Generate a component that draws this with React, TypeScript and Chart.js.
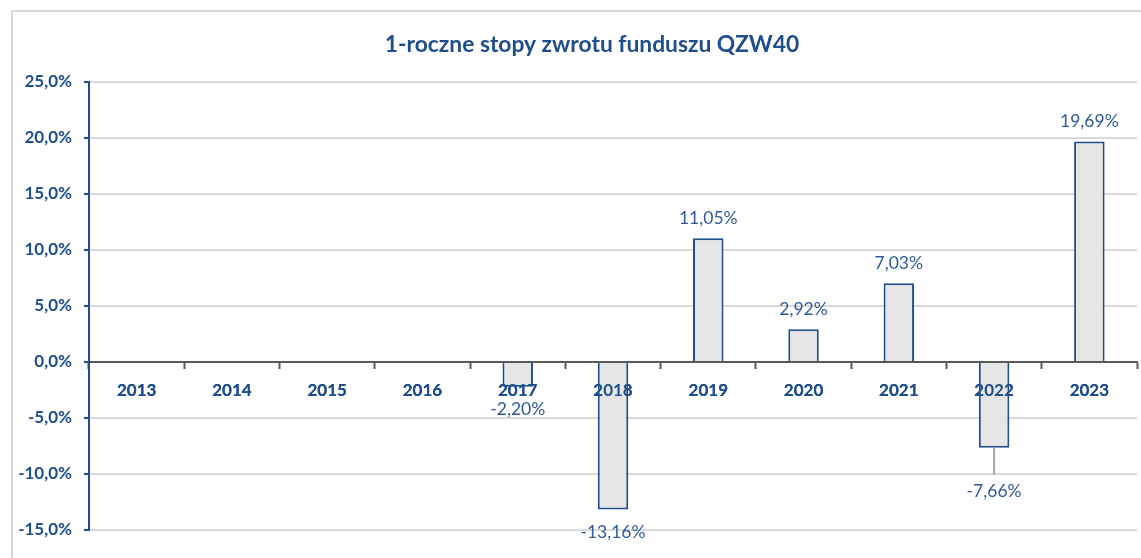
import { useEffect, useRef } from 'react';
import { Chart, registerables } from 'chart.js';

Chart.register(...registerables);

const chartTitle = '1-roczne stopy zwrotu funduszu QZW40';
const years = ['2013', '2014', '2015', '2016', '2017', '2018', '2019', '2020', '2021', '2022', '2023'];
const returns: (number | null)[] = [null, null, null, null, -2.2, -13.16, 11.05, 2.92, 7.03, -7.66, 19.69];
const yMin = -15;
const yMax = 25;
const yStep = 5;
const leaderYears = ['2022'];

const NAVY = '#1f4e8c';
const LABEL_BLUE = '#2f5c98';
const FONT = 'Lato, "Open Sans", sans-serif';

const pct = (v: number, d: number) => v.toFixed(d).replace('.', ',') + '%';

const labelsPlugin = {
  id: 'customLabels',
  afterDatasetsDraw(chart: any) {
    // x category labels drawn over the bars
    const xs = chart.scales.x;
    if (xs && typeof xs.drawLabels === 'function') {
      xs.drawLabels(chart.chartArea);
    }
  },
  afterDraw(chart: any) {
    const ctx = chart.ctx;
    ctx.save();
    // title
    ctx.font = `bold 22.8px ${FONT}`;
    ctx.fillStyle = NAVY;
    ctx.textAlign = 'center';
    ctx.textBaseline = 'middle';
    ctx.fillText(chartTitle, 592, 45);

    // data labels
    const meta = chart.getDatasetMeta(0);
    ctx.font = `17.5px ${FONT}`;
    ctx.fillStyle = LABEL_BLUE;
    meta.data.forEach((bar: any, i: number) => {
      const v = returns[i];
      if (v === null || v === undefined) return;
      const text = pct(v, 2);
      if (v >= 0) {
        ctx.fillStyle = LABEL_BLUE;
        ctx.fillText(text, bar.x, bar.y - 20);
      } else if (leaderYears.includes(years[i])) {
        ctx.strokeStyle = '#a6a6a6';
        ctx.lineWidth = 2;
        ctx.beginPath();
        ctx.moveTo(bar.x, bar.y);
        ctx.lineTo(bar.x, bar.y + 27);
        ctx.stroke();
        ctx.fillStyle = LABEL_BLUE;
        ctx.fillText(text, bar.x, bar.y + 44);
      } else {
        ctx.fillStyle = LABEL_BLUE;
        ctx.fillText(text, bar.x, bar.y + 23);
      }
    });
    ctx.restore();
  },
};

export default function App() {
  const ref = useRef<HTMLCanvasElement | null>(null);
  useEffect(() => {
    if (!ref.current) return;
    const chart = new Chart(ref.current, {
      type: 'bar',
      data: {
        labels: years,
        datasets: [
          {
            data: returns as any,
            backgroundColor: '#e6e6e6',
            borderColor: NAVY,
            borderWidth: 2,
            barPercentage: 0.32,
            categoryPercentage: 1,
          },
        ],
      },
      options: {
        animation: false,
        responsive: false,
        maintainAspectRatio: false,
        layout: { padding: { left: 0, top: 82, right: 4, bottom: 28 } },
        plugins: {
          legend: { display: false },
          title: { display: false },
          tooltip: { enabled: false },
        },
        scales: {
          x: {
            position: { y: 0 } as any,
            grid: {
              drawOnChartArea: false,
              drawTicks: true,
              tickLength: 6,
              tickColor: '#595959',
              tickWidth: 2,
              offset: true,
            },
            border: { color: '#595959', width: 2 },
            ticks: {
              color: NAVY,
              font: { family: FONT, size: 17, weight: 'bold' },
              padding: 12,
              maxRotation: 0,
              autoSkip: false,
            },
          },
          y: {
            min: yMin,
            max: yMax,
            ticks: {
              stepSize: yStep,
              color: NAVY,
              font: { family: FONT, size: 17, weight: 'bold' },
              padding: 12,
              callback: (v: any) => pct(Number(v), 1),
            },
            grid: {
              color: '#d9d9d9',
              lineWidth: 2,
              tickColor: NAVY,
              tickLength: 5,
              tickWidth: 2,
            },
            border: { color: NAVY, width: 2 },
            afterFit: (s: any) => {
              s.width = 89;
            },
          },
        },
      },
      plugins: [labelsPlugin],
    });
    return () => chart.destroy();
  }, []);

  return (
    <div style={{ position: 'fixed', left: 0, top: 0, width: 1141, height: 558, overflow: 'hidden', background: '#fff' }}>
      <div
        style={{
          position: 'absolute',
          left: 11,
          top: 10,
          width: 1300,
          height: 700,
          border: '2px solid #d9d9d9',
          boxSizing: 'border-box',
        }}
      />
      <canvas ref={ref} width={1141} height={558} style={{ position: 'absolute', left: 0, top: 0, display: 'block' }} />
    </div>
  );
}
